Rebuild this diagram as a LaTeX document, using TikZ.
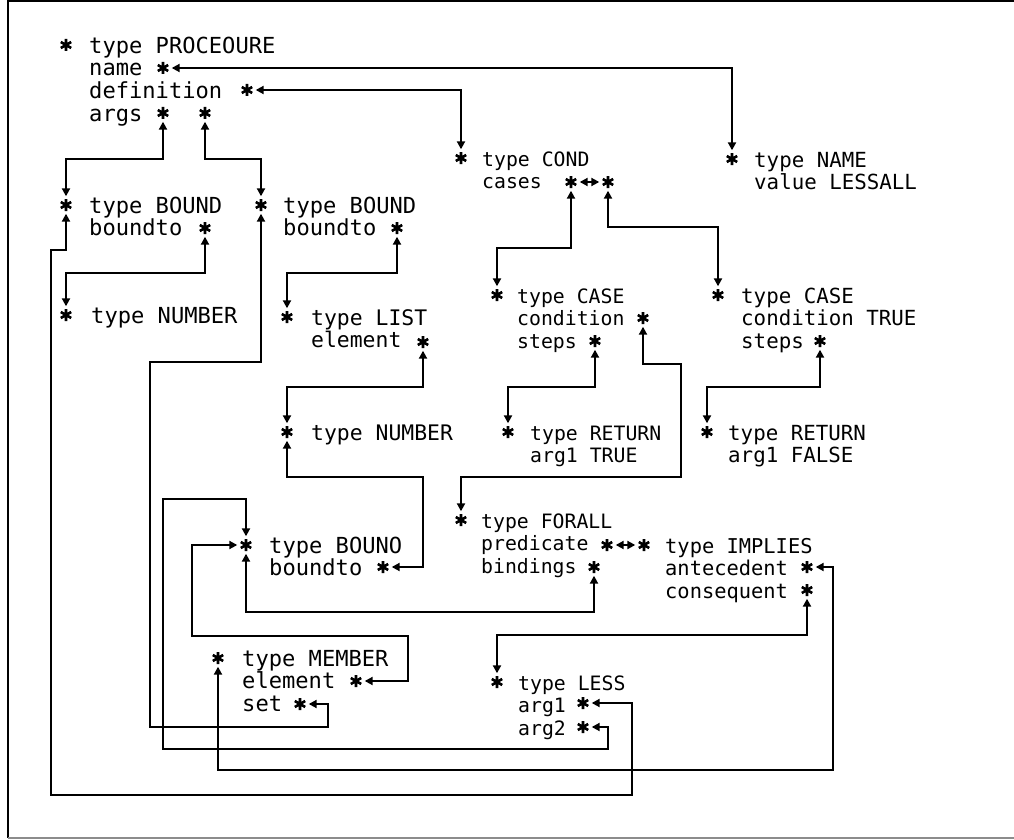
\documentclass[tikz,border=0pt]{standalone}
\usepackage{fontspec}
\setmonofont{DejaVu Sans Mono}
\usetikzlibrary{arrows.meta}

\begin{document}
\begin{tikzpicture}[
    x=1pt, y=-1pt,
    rec/.style={anchor=base west, align=left, inner sep=0pt, font=\ttfamily\fontsize{#1}{22.8}\selectfont},
    rec/.default=22.1,
    ptr/.style={circle, inner sep=0pt, minimum size=17pt, path picture={
        \draw[line width=2.6pt, shift={(path picture bounding box.center)}]
            (0,-6) -- (0,6) (-5.2,-3) -- (5.2,3) (-5.2,3) -- (5.2,-3);}},
    link/.style={{Triangle[length=8pt,width=8pt]}-{Triangle[length=8pt,width=8pt]}, line width=2.8pt},
]
    \useasboundingbox (0,0) rectangle (1014,840);
    \draw[line width=2.6pt] (1014,1) -- (8,1) -- (8,838);
    \draw[line width=1.6pt, black!45] (8,838) -- (1014,838);

    % records (base = last line)
    \node[rec] (tproc) at (89,121.4) {type PROCEOURE\\name\\definition\\args};
    \node[rec=19.8] (tcond) at (482,188.8) {type COND\\cases};
    \node[rec=20.8] (tname) at (754,189.8) {type NAME\\value LESSALL};
    \node[rec] (tboundA) at (89,235.8) {type BOUND\\boundto};
    \node[rec] (tboundB) at (283,235.8) {type BOUND\\boundto};
    \node[rec] (tnumA) at (91,323) {type NUMBER};
    \node[rec=21.4] (tlist) at (311,347.8) {type LIST\\element};
    \node[rec=19.8] (tcaseA) at (517,348.6) {type CASE\\condition\\steps};
    \node[rec=20.8] (tcaseB) at (741,348.6) {type CASE\\condition TRUE\\steps};
    \node[rec=21.4] (tnumB) at (311,440) {type NUMBER};
    \node[rec=19.8] (tretA) at (530,462.8) {type RETURN\\arg1 TRUE};
    \node[rec=20.8] (tretB) at (728,462.8) {type RETURN\\arg1 FALSE};
    \node[rec=19.8] (tforall) at (481,573.6) {type FORALL\\predicate\\bindings};
    \node[rec=20.4] (timpl) at (665,598.6) {type IMPLIES\\antecedent\\consequent};
    \node[rec] (tboundC) at (269,575.8) {type BOUNO\\boundto};
    \node[rec] (tmember) at (242,711.6) {type MEMBER\\element\\set};
    \node[rec=19.8] (tless) at (518,735.6) {type LESS\\arg1\\arg2};

    % pointers
    \node[ptr] (hproc) at (66,45) {};
    \node[ptr] (pname) at (163,68) {};
    \node[ptr] (pdef) at (247,90) {};
    \node[ptr] (pargA) at (163,113) {};
    \node[ptr] (pargB) at (205,113) {};
    \node[ptr] (hcond) at (461,158) {};
    \node[ptr] (pcaseA) at (571,182) {};
    \node[ptr] (pcaseB) at (608,182) {};
    \node[ptr] (hname) at (732,159) {};
    \node[ptr] (hboundA) at (66,205) {};
    \node[ptr] (ptoA) at (205,228) {};
    \node[ptr] (hboundB) at (261,205) {};
    \node[ptr] (ptoB) at (397,228) {};
    \node[ptr] (hnumA) at (66,315) {};
    \node[ptr] (hlist) at (287,317) {};
    \node[ptr] (pelem) at (423,342) {};
    \node[ptr] (hcaseA) at (497,295) {};
    \node[ptr] (pcondA) at (643,318) {};
    \node[ptr] (pstepA) at (595,341) {};
    \node[ptr] (hcaseB) at (718,295) {};
    \node[ptr] (pstepB) at (820,341) {};
    \node[ptr] (hnumB) at (287,432) {};
    \node[ptr] (hretA) at (508,432) {};
    \node[ptr] (hretB) at (707,432) {};
    \node[ptr] (hforall) at (461,520) {};
    \node[ptr] (ppred) at (607,545) {};
    \node[ptr] (pbind) at (594,567) {};
    \node[ptr] (himpl) at (644,545) {};
    \node[ptr] (pante) at (807,567) {};
    \node[ptr] (pcons) at (807,590) {};
    \node[ptr] (hboundC) at (246,545) {};
    \node[ptr] (ptoC) at (383,567) {};
    \node[ptr] (hmember) at (218,658) {};
    \node[ptr] (pmemel) at (356,681) {};
    \node[ptr] (pset) at (300,704) {};
    \node[ptr] (hless) at (497,682) {};
    \node[ptr] (plargA) at (583,703) {};
    \node[ptr] (plargB) at (583,727) {};

    % links
    \draw[link] (pname) -| (hname);
    \draw[link] (pdef) -| (hcond);
    \draw[link] (pargA) -- (163,159) -| (hboundA);
    \draw[link] (pargB) -- (205,159) -| (hboundB);
    \draw[link] (ptoA) -- (205,273) -| (hnumA);
    \draw[link] (ptoB) -- (397,273) -| (hlist);
    \draw[link] (pelem) -- (423,387) -| (hnumB);
    \draw[link] (hnumB) -- (287,477) -- (423,477) |- (ptoC);
    \draw[link] (pcaseA) -- (pcaseB);
    \draw[link] (pcaseA) -- (571,248) -| (hcaseA);
    \draw[link] (pcaseB) -- (608,227) -| (hcaseB);
    \draw[link] (pstepA) -- (595,387) -| (hretA);
    \draw[link] (pstepB) -- (820,387) -| (hretB);
    \draw[link] (pcondA) -- (643,364) -- (681,364) -- (681,477) -| (hforall);
    \draw[link] (ppred) -- (himpl);
    \draw[link] (pcons) -- (807,635) -| (hless);
    \draw[link] (pante) -- (833,567) -- (833,770) -| (hmember);
    \draw[link] (pbind) -- (594,612) -| (hboundC);
    \draw[link] (plargB) -- (608,727) -- (608,749) -- (163,749) -- (163,499) -| (hboundC);
    \draw[link] (pmemel) -- (408,681) -- (408,636) -- (192,636) |- (hboundC);
    \draw[link] (hboundA) -- (66,250) -- (51,250) -- (51,795) -- (632,795) -- (632,703) -- (plargA);
    \draw[link] (hboundB) -- (261,362) -- (150,362) -- (150,727) -- (328,727) -- (328,704) -- (pset);
\end{tikzpicture}
\end{document}
